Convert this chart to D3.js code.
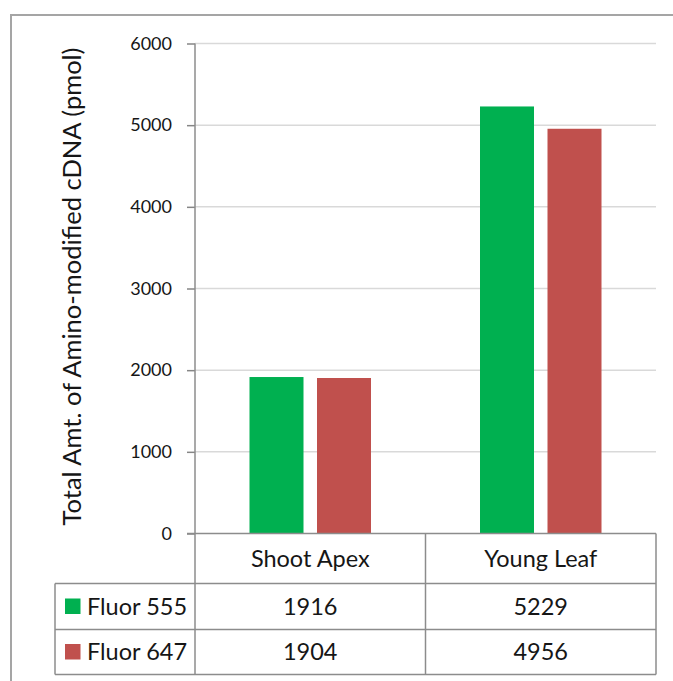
<!DOCTYPE html>
<html>
<head>
<meta charset="utf-8">
<script src="https://cdn.jsdelivr.net/npm/d3@7"></script>
<style>
  html, body { margin: 0; padding: 0; background: #fff; }
  svg { display: block; }
  text { font-family: Lato, "Noto Sans", sans-serif; fill: #161616; }
</style>
</head>
<body>
<svg id="chart" width="673" height="681"></svg>
<script>
// Chart data
const categories = ["Shoot Apex", "Young Leaf"];
const seriesNames = ["Fluor 555", "Fluor 647"];
const fluor555 = [1916, 5229];
const fluor647 = [1904, 4956];
const yTicks = [0, 1000, 2000, 3000, 4000, 5000, 6000];
const colors = ["#00b050", "#c0504d"];
const yTitle = "Total Amt. of Amino-modified cDNA (pmol)";

const seriesValues = [fluor555, fluor647];

const svg = d3.select("#chart");

// Plot geometry
const plot = { left: 195, right: 656, top: 43.5, bottom: 533.5 };
const table = { left: 55, rowH: [50, 46, 45] };

// Outer frame (extends past the right and bottom of the view)
svg.append("rect")
  .attr("x", 11).attr("y", 15)
  .attr("width", 700).attr("height", 700)
  .attr("fill", "none")
  .attr("stroke", "#a5a5a5")
  .attr("stroke-width", 2);

const y = d3.scaleLinear().domain([0, 6000]).range([plot.bottom, plot.top]);
const x0 = d3.scaleBand().domain(categories).range([plot.left, plot.right]).padding(0);
const groupW = 121.5;
const x1 = d3.scaleBand().domain(seriesNames).range([0, groupW]).paddingInner(0.2).paddingOuter(0);

// Gridlines
svg.append("g")
  .selectAll("line")
  .data(yTicks.filter(d => d > 0))
  .join("line")
  .attr("x1", plot.left).attr("x2", plot.right)
  .attr("y1", d => y(d)).attr("y2", d => y(d))
  .attr("stroke", "#d9d9d9")
  .attr("stroke-width", 1.5);

// Y axis
const yAxis = svg.append("g")
  .attr("transform", `translate(${plot.left},0)`)
  .call(d3.axisLeft(y).tickValues(yTicks).tickSize(8).tickPadding(15).tickFormat(d3.format("d")));
yAxis.select(".domain").remove();
yAxis.selectAll(".tick line").attr("stroke", "#868686").attr("stroke-width", 1.5);
yAxis.selectAll(".tick text")
  .style("font-family", "Lato, sans-serif")
  .style("font-size", "18px")
  .attr("fill", "#161616");

// Bars
const groups = svg.append("g")
  .selectAll("g")
  .data(categories)
  .join("g")
  .attr("transform", d => `translate(${x0(d) + (x0.bandwidth() - groupW) / 2},0)`);

groups.selectAll("rect")
  .data((c, ci) => seriesNames.map((s, si) => ({ s, si, v: seriesValues[si][ci] })))
  .join("rect")
  .attr("x", d => x1(d.s))
  .attr("width", x1.bandwidth())
  .attr("y", d => y(d.v))
  .attr("height", d => y(0) - y(d.v))
  .attr("fill", d => colors[d.si]);

// Axis line (continues down as the table's first column divider)
const rowTops = [plot.bottom, plot.bottom + table.rowH[0], plot.bottom + table.rowH[0] + table.rowH[1]];
const tableBottom = rowTops[2] + table.rowH[2];
const lineColor = "#8c8c8c";
const grid = svg.append("g").attr("stroke", lineColor).attr("stroke-width", 1.5).attr("fill", "none");

grid.append("line").attr("x1", plot.left).attr("x2", plot.left).attr("y1", plot.top).attr("y2", tableBottom);
// Data table horizontal lines
grid.append("line").attr("x1", plot.left - 8).attr("x2", plot.right).attr("y1", rowTops[0]).attr("y2", rowTops[0]);
grid.append("line").attr("x1", table.left).attr("x2", plot.right).attr("y1", rowTops[1]).attr("y2", rowTops[1]);
grid.append("line").attr("x1", table.left).attr("x2", plot.right).attr("y1", rowTops[2]).attr("y2", rowTops[2]);
grid.append("line").attr("x1", table.left).attr("x2", plot.right).attr("y1", tableBottom).attr("y2", tableBottom);
// Vertical lines
grid.append("line").attr("x1", table.left).attr("x2", table.left).attr("y1", rowTops[1]).attr("y2", tableBottom);
grid.append("line").attr("x1", plot.right).attr("x2", plot.right).attr("y1", rowTops[0]).attr("y2", tableBottom);
categories.slice(1).forEach(c => {
  grid.append("line").attr("x1", x0(c)).attr("x2", x0(c)).attr("y1", rowTops[0]).attr("y2", tableBottom);
});

const cellFont = "23.5px";

// Category header row
svg.append("g").selectAll("text")
  .data(categories)
  .join("text")
  .attr("x", d => x0(d) + x0.bandwidth() / 2)
  .attr("y", rowTops[0] + table.rowH[0] / 2)
  .attr("dy", "0.35em")
  .attr("text-anchor", "middle")
  .style("font-size", cellFont)
  .text(d => d);

// Series rows: legend key, name, values
seriesNames.forEach((name, si) => {
  const top = rowTops[si + 1], h = table.rowH[si + 1];
  const cy = top + h / 2;
  svg.append("rect")
    .attr("x", 65).attr("y", cy - 8)
    .attr("width", 15.5).attr("height", 15.5)
    .attr("fill", colors[si]);
  svg.append("text")
    .attr("x", 87).attr("y", cy).attr("dy", "0.35em")
    .style("font-size", cellFont)
    .text(name);
  svg.append("g").selectAll("text")
    .data(categories)
    .join("text")
    .attr("x", d => x0(d) + x0.bandwidth() / 2)
    .attr("y", cy).attr("dy", "0.35em")
    .attr("text-anchor", "middle")
    .style("font-size", cellFont)
    .text((d, ci) => seriesValues[si][ci]);
});

// Y axis title
svg.append("text")
  .attr("transform", `translate(81,${(43 + 530) / 2}) rotate(-90)`)
  .attr("text-anchor", "middle")
  .style("font-size", "25.5px")
  .text(yTitle);
</script>
</body>
</html>
